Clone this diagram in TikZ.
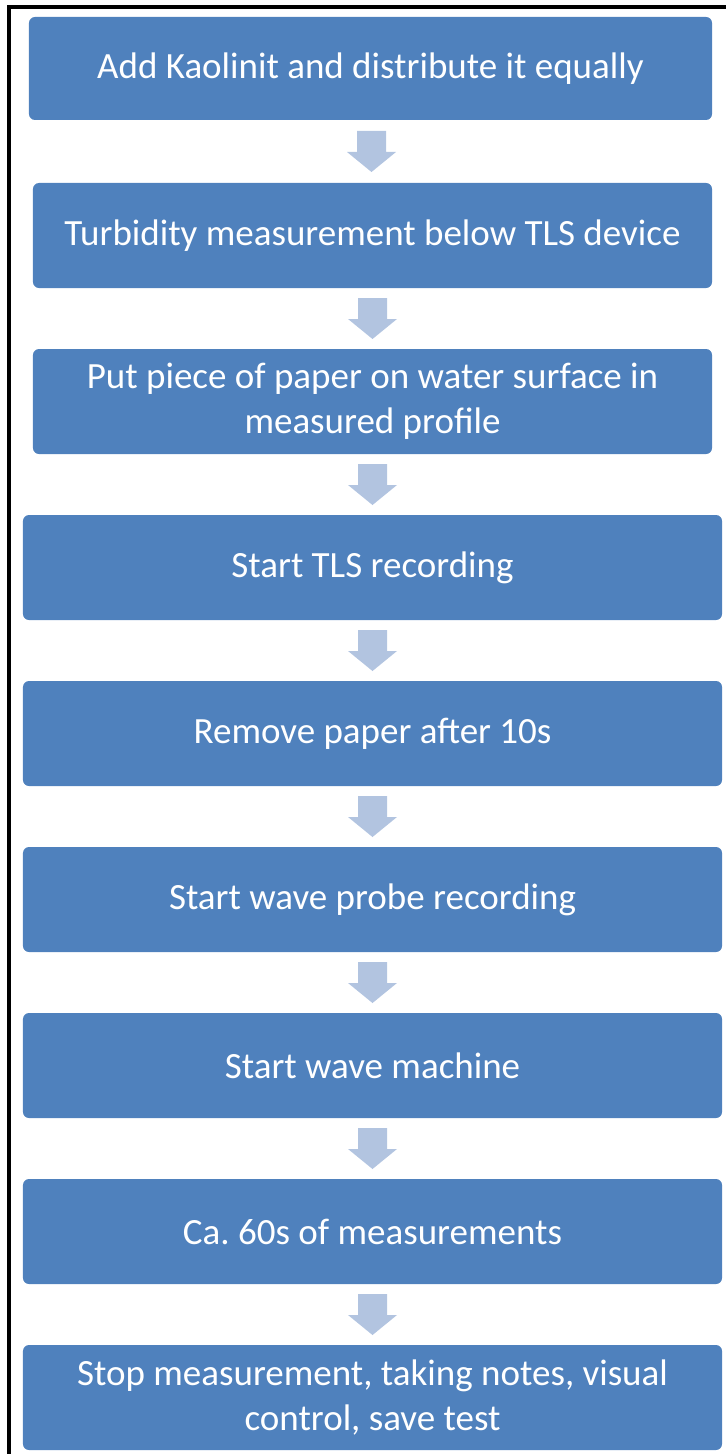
\documentclass[tikz,border=0pt]{standalone}
\usepackage{fontspec}
\setmainfont{Carlito}
\frenchspacing
\usetikzlibrary{calc}
\definecolor{boxblue}{HTML}{4F81BD}
\definecolor{arrowblue}{HTML}{B2C4E0}
\tikzset{
  stepbox/.style={fill=boxblue, draw=none, rounded corners=6bp, text=white,
    font=\fontsize{37bp}{45bp}\selectfont, align=center, inner sep=0pt, anchor=center},
  downarrow/.pic={\fill[arrowblue] (-14.5,-20.5) -- (14.5,-20.5) -- (14.5,0.5) -- (24.5,0.5)
    -- (0,20.5) -- (-24.5,0.5) -- (-14.5,0.5) -- cycle;},
  frameline/.style={line width=4bp, draw=black, line join=miter}
}
\begin{document}
\begin{tikzpicture}[x=1bp,y=-1bp]
\useasboundingbox (0,0) rectangle (726,1454);
\draw[frameline] (9,1460) -- (9,7) -- (730,7);
\node[stepbox, minimum width=683bp, minimum height=103bp] (b1) at (370.5,68.5) {Add Kaolinit and distribute it equally};
\node[stepbox, minimum width=679bp, minimum height=105bp] (b2) at (372.5,235.5) {Turbidity measurement below TLS device};
\node[stepbox, minimum width=679bp, minimum height=105bp] (b3) at (372.5,401.5) {Put piece of paper on water surface in\\measured profile};
\node[stepbox, minimum width=699bp, minimum height=105bp] (b4) at (372.5,567.5) {Start TLS recording};
\node[stepbox, minimum width=699bp, minimum height=105bp] (b5) at (372.5,733.5) {Remove paper after 10s};
\node[stepbox, minimum width=699bp, minimum height=105bp] (b6) at (372.5,899.5) {Start wave probe recording};
\node[stepbox, minimum width=699bp, minimum height=105bp] (b7) at (372.5,1065.5) {Start wave machine};
\node[stepbox, minimum width=699bp, minimum height=105bp] (b8) at (372.5,1231.5) {Ca. 60s of measurements};
\node[stepbox, minimum width=699bp, minimum height=105bp] (b9) at (372.5,1397.5) {Stop measurement, taking notes, visual\\control, save test};
\foreach \a/\b in {b1/b2,b2/b3,b3/b4,b4/b5,b5/b6,b6/b7,b7/b8,b8/b9}{
  \path ($(\a.south)!0.5!(\b.north)$) pic {downarrow};
}
\end{tikzpicture}
\end{document}
